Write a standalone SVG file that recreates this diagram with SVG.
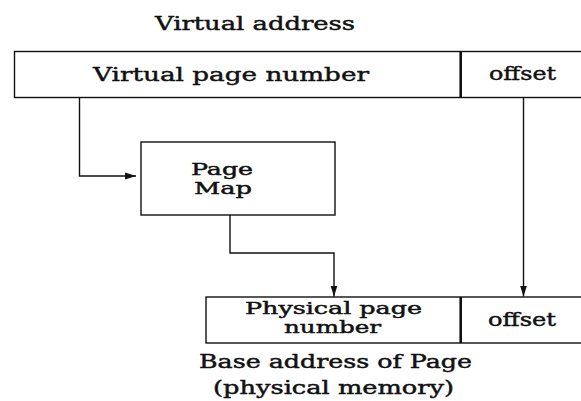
<svg xmlns="http://www.w3.org/2000/svg" width="581" height="401" viewBox="0 0 581 401">
  <style>
    .box { fill: #ffffff; stroke: #111111; stroke-width: 1.4; }
    .div { stroke: #111111; stroke-width: 2.6; }
    .wire { fill: none; stroke: #111111; stroke-width: 1.4; }
    text { font-family: "DejaVu Serif", "Liberation Serif", serif; fill: #111111; stroke: #111111; stroke-width: 0.45; }
    .t19 { font-size: 19px; }
    .t18 { font-size: 18px; }
    .t17 { font-size: 17px; }
    .t16 { font-size: 16px; }
  </style>
  <defs>
    <marker id="arrow" markerWidth="12" markerHeight="10" refX="11" refY="4.5" orient="auto" markerUnits="userSpaceOnUse">
      <path d="M0,1 L11,4.5 L0,8 Z" fill="#111111"/>
    </marker>
  </defs>
  <rect width="581" height="401" fill="#ffffff"/>

  <text class="t19" x="155" y="30" textLength="200" lengthAdjust="spacingAndGlyphs">Virtual address</text>

  <g id="virtual-address">
    <rect class="box" x="14.5" y="51.5" width="575" height="46"/>
    <line class="div" x1="460.7" y1="51.5" x2="460.7" y2="97.5"/>
    <text class="t19" x="93" y="80.5" textLength="276" lengthAdjust="spacingAndGlyphs">Virtual page number</text>
    <text class="t19" x="489" y="80" textLength="67" lengthAdjust="spacingAndGlyphs">offset</text>
  </g>

  <g id="page-map">
    <rect class="box" x="141" y="142" width="194" height="73"/>
    <text class="t16" x="191" y="175" textLength="62" lengthAdjust="spacingAndGlyphs">Page</text>
    <text class="t16" x="194" y="194" textLength="58" lengthAdjust="spacingAndGlyphs">Map</text>
  </g>

  <g id="physical-address">
    <rect class="box" x="206" y="297" width="380" height="46"/>
    <line class="div" x1="460.7" y1="297" x2="460.7" y2="343"/>
    <text class="t16" x="245" y="314" textLength="177" lengthAdjust="spacingAndGlyphs">Physical page</text>
    <text class="t16" x="284" y="333" textLength="97" lengthAdjust="spacingAndGlyphs">number</text>
    <text class="t19" x="488" y="326" textLength="68" lengthAdjust="spacingAndGlyphs">offset</text>
  </g>

  <text class="t18" x="199" y="368" textLength="273" lengthAdjust="spacingAndGlyphs">Base address of Page</text>
  <text class="t18" x="213" y="394" textLength="241" lengthAdjust="spacingAndGlyphs">(physical memory)</text>

  <g id="connectors">
    <path class="wire" d="M79.5 97.5 V176 H136" marker-end="url(#arrow)"/>
    <path class="wire" d="M230 215 V253 H334 V296.5" marker-end="url(#arrow)"/>
    <path class="wire" d="M523.5 97.5 V296.5" marker-end="url(#arrow)"/>
  </g>
</svg>
